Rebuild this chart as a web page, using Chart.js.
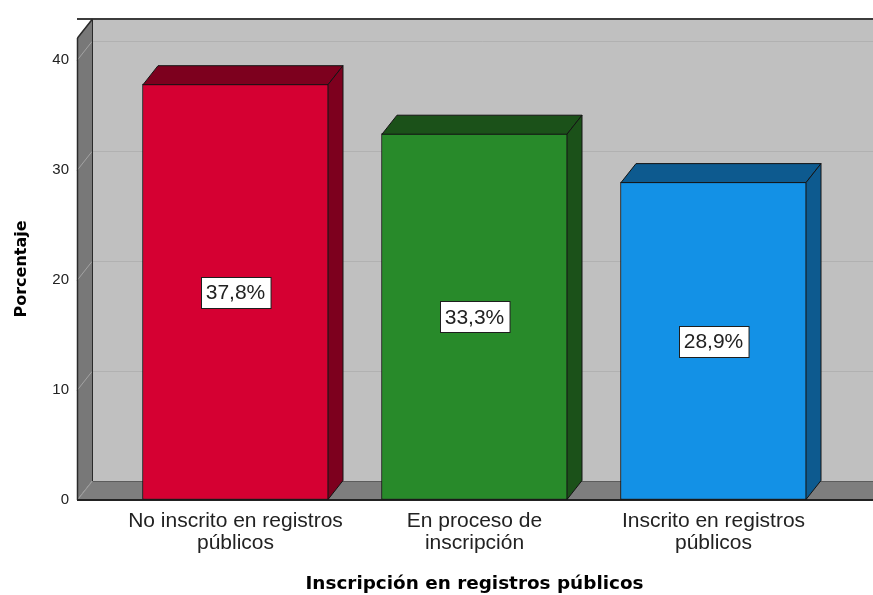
<!DOCTYPE html>
<html>
<head>
<meta charset="utf-8">
<title>Inscripción en registros públicos</title>
<script src="https://cdn.jsdelivr.net/npm/chart.js@4.4.0/dist/chart.umd.min.js"></script>
<style>
    html, body { margin: 0; padding: 0; background: #ffffff; }
    #chartBox { width: 873px; height: 595px; }
</style>
</head>
<body>
<div id="chartBox"><canvas id="registroChart" width="873" height="595"></canvas></div>
<script>
// Datos del gráfico
const categorias = [
    ['No inscrito en registros', 'públicos'],
    ['En proceso de', 'inscripción'],
    ['Inscrito en registros', 'públicos']
];
const porcentajes = [37.8, 33.3, 28.9];
const marcasY = [0, 10, 20, 30, 40];

const coloresFrente = ['#d50032', '#288a2a', '#1391e6'];
const coloresSombra = ['#7d001e', '#1b5119', '#0d5a8f'];

// profundidad del efecto 3D
const DX = 15;
const DY = -19;
const muroIzq = 77;

document.addEventListener('DOMContentLoaded', function () {
    const ctx = document.getElementById('registroChart').getContext('2d');

    function poligono(c, pts, fill, stroke, lw) {
        c.beginPath();
        c.moveTo(pts[0][0], pts[0][1]);
        for (let i = 1; i < pts.length; i++) c.lineTo(pts[i][0], pts[i][1]);
        c.closePath();
        if (fill) { c.fillStyle = fill; c.fill(); }
        if (stroke) { c.strokeStyle = stroke; c.lineWidth = lw || 1; c.stroke(); }
    }

    function linea(c, x1, y1, x2, y2, color, lw) {
        c.beginPath();
        c.moveTo(x1, y1);
        c.lineTo(x2, y2);
        c.strokeStyle = color;
        c.lineWidth = lw || 1;
        c.stroke();
    }

    // pared del fondo, pared lateral y suelo
    const paredes3d = {
        id: 'paredes3d',
        beforeDatasetsDraw(chart) {
            const c = chart.ctx;
            const yScale = chart.scales.y;
            const top = chart.chartArea.top;
            const bottom = chart.chartArea.bottom;
            const ancho = chart.width;
            const fondoX = muroIzq + DX;

            c.save();
            c.fillStyle = '#c0c0c0';
            c.fillRect(fondoX, top + DY, ancho - fondoX, bottom - top);

            marcasY.forEach(v => {
                if (v === 0) return;
                const py = Math.round(yScale.getPixelForValue(v)) + 0.5;
                linea(c, fondoX, py + DY, ancho, py + DY, '#b1b1b1', 1);
            });

            poligono(c, [[muroIzq, top], [fondoX, top + DY], [fondoX, bottom + DY], [muroIzq, bottom]], '#787878');
            marcasY.forEach(v => {
                if (v === 0) return;
                const py = Math.round(yScale.getPixelForValue(v)) + 0.5;
                linea(c, muroIzq, py, fondoX, py + DY, '#a4a4a4', 1);
            });

            poligono(c, [[muroIzq, bottom], [fondoX, bottom + DY], [ancho, bottom + DY], [ancho, bottom]], '#7e7e7e');

            // bordes
            linea(c, fondoX, bottom + DY + 0.5, ancho, bottom + DY + 0.5, '#5c5c5c', 1);
            linea(c, muroIzq + 0.5, bottom, fondoX + 0.5, bottom + DY, '#9c9c9c', 1);
            linea(c, fondoX + 0.5, top + DY, fondoX + 0.5, bottom + DY, '#2a2a2a', 1);
            linea(c, muroIzq, top + DY, ancho, top + DY, '#3c3c3c', 2);
            linea(c, muroIzq + 0.5, top, fondoX + 0.5, top + DY, '#2a2a2a', 1.5);
            linea(c, muroIzq + 0.5, top, muroIzq + 0.5, bottom, '#2a2a2a', 1.5);
            linea(c, muroIzq, bottom, ancho, bottom, '#222222', 2);
            c.restore();
        }
    };

    // caras superior y lateral de cada barra, y etiqueta de valor
    const barras3d = {
        id: 'barras3d',
        afterDatasetsDraw(chart) {
            const c = chart.ctx;
            const yScale = chart.scales.y;
            const meta = chart.getDatasetMeta(0);

            c.save();
            meta.data.forEach((bar, i) => {
                const p = bar.getProps(['x', 'y', 'base', 'width'], true);
                const l = p.x - p.width / 2;
                const r = p.x + p.width / 2;
                const t = p.y + 0.5;
                const b = p.base;
                poligono(c, [[l + 0.5, t], [l + 0.5 + DX, t + DY], [r + DX - 0.5, t + DY], [r - 0.5, t]], coloresSombra[i], '#141414', 1);
                poligono(c, [[r - 0.5, t], [r + DX - 0.5, t + DY], [r + DX - 0.5, b + DY], [r - 0.5, b]], coloresSombra[i], '#141414', 1);
            });

            c.font = "21px 'Liberation Sans', Arial, sans-serif";
            c.textAlign = 'center';
            c.textBaseline = 'middle';
            meta.data.forEach((bar, i) => {
                const valor = porcentajes[i];
                const texto = valor.toFixed(1).replace('.', ',') + '%';
                const cx = bar.x;
                const cy = yScale.getPixelForValue(valor / 2);
                const w = c.measureText(texto).width + 10;
                const h = 31;
                const bx = Math.round(cx - w / 2) + 0.5;
                const by = Math.round(cy - h / 2) + 0.5;
                c.fillStyle = '#ffffff';
                c.fillRect(bx, by, w, h);
                c.strokeStyle = '#1e1e1e';
                c.lineWidth = 1;
                c.strokeRect(bx, by, w, h);
                c.fillStyle = '#222222';
                c.fillText(texto, cx, cy + 1);
            });
            c.restore();
        }
    };

    new Chart(ctx, {
        type: 'bar',
        data: {
            labels: categorias,
            datasets: [{
                data: porcentajes,
                backgroundColor: coloresFrente,
                borderColor: '#141414',
                borderWidth: 1,
                borderSkipped: false,
                barThickness: 186,
                categoryPercentage: 1
            }]
        },
        options: {
            responsive: false,
            animation: false,
            layout: {
                padding: { top: 38, right: 40, left: 0, bottom: 0 }
            },
            plugins: {
                legend: { display: false },
                tooltip: { enabled: false }
            },
            scales: {
                x: {
                    grid: { display: false, drawTicks: false },
                    border: { display: false },
                    ticks: {
                        color: '#222222',
                        font: { family: "'Liberation Sans', Arial, sans-serif", size: 21, lineHeight: 1.05 },
                        padding: 10,
                        maxRotation: 0,
                        autoSkip: false
                    },
                    title: {
                        display: true,
                        text: 'Inscripción en registros públicos',
                        color: '#000000',
                        font: { family: "'DejaVu Sans', sans-serif", size: 18.4, weight: 'bold' },
                        padding: { top: 0, bottom: 0 }
                    },
                    afterFit: function (scale) {
                        scale.height = 95;
                    }
                },
                y: {
                    min: 0,
                    max: 42,
                    // marcas invisibles: sólo separan las etiquetas del muro lateral
                    grid: {
                        display: true,
                        drawOnChartArea: false,
                        drawTicks: true,
                        tickLength: 44,
                        color: 'rgba(0,0,0,0)'
                    },
                    border: { display: false },
                    ticks: {
                        color: '#222222',
                        font: { family: "'Liberation Sans', Arial, sans-serif", size: 15 },
                        padding: 3
                    },
                    afterBuildTicks: function (scale) {
                        scale.ticks = marcasY.map(v => ({ value: v }));
                    },
                    title: {
                        display: true,
                        text: 'Porcentaje',
                        color: '#000000',
                        font: { family: "'DejaVu Sans', sans-serif", size: 16, weight: 'bold' },
                        padding: { top: 12, bottom: 0 }
                    },
                    afterFit: function (scale) {
                        scale.width = 116;
                    }
                }
            }
        },
        plugins: [paredes3d, barras3d]
    });
});
</script>
</body>
</html>
